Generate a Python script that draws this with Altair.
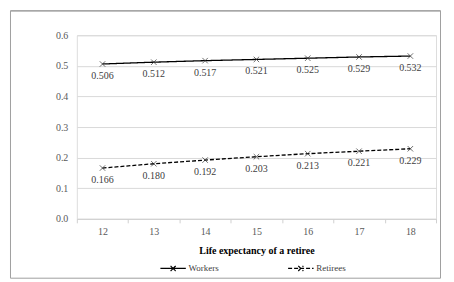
import altair as alt
import pandas as pd

years = [12, 13, 14, 15, 16, 17, 18]
workers = [0.506, 0.512, 0.517, 0.521, 0.525, 0.529, 0.532]
retirees = [0.166, 0.180, 0.192, 0.203, 0.213, 0.221, 0.229]
series_names = ["Workers", "Retirees"]
y_ticks = [0.0, 0.1, 0.2, 0.3, 0.4, 0.5, 0.6]

rows = []
for name, vals in zip(series_names, [workers, retirees]):
    for yr, v in zip(years, vals):
        rows.append({"year": yr, "series": name, "value": v, "label": f"{v:.3f}"})
df = pd.DataFrame(rows)

FONT = "'Liberation Serif', 'Times New Roman', 'DejaVu Serif', serif"

x_enc = alt.X(
    "year:O",
    scale=alt.Scale(type="band", paddingInner=0, paddingOuter=0),
    bandPosition=0.5,
    axis=alt.Axis(
        title="Life expectancy of a retiree",
        labelAngle=0,
        tickBand="extent",
        grid=False,
        domainColor="#d0d0d0",
        tickColor="#d0d0d0",
        tickSize=4,
        labelColor="#595959",
        labelFont=FONT,
        labelFontSize=10,
        labelPadding=4,
        titleFont=FONT,
        titleFontSize=10,
        titleFontWeight="bold",
        titleColor="#000000",
        titlePadding=9,
    ),
)
y_enc = alt.Y(
    "value:Q",
    scale=alt.Scale(domain=[0, 0.6], nice=False),
    axis=alt.Axis(
        title=None,
        values=y_ticks,
        format=".1f",
        domain=False,
        ticks=False,
        gridColor="#d9d9d9",
        labelColor="#595959",
        labelFont=FONT,
        labelFontSize=10,
        labelPadding=9,
    ),
)

base = alt.Chart(df)

lines = base.mark_line(color="black", strokeWidth=1.3).encode(
    x=x_enc,
    y=y_enc,
    strokeDash=alt.StrokeDash(
        "series:N",
        scale=alt.Scale(domain=series_names, range=[[1, 0], [4, 2]]),
        sort=series_names,
        legend=alt.Legend(
            title=None,
            orient="none",
            legendX=83,
            legendY=220,
            direction="horizontal",
            columns=2,
            columnPadding=66,
            symbolType="M-1,0H1M-0.2,-0.2L0.2,0.2M-0.2,0.2L0.2,-0.2",
            symbolSize=650,
            symbolStrokeColor="black",
            symbolStrokeWidth=1.2,
            symbolFillColor="transparent",
            labelFont=FONT,
            labelFontSize=9,
            labelColor="#404040",
            labelOffset=2,
        ),
    ),
)

points = base.mark_point(
    shape="M-1,-1L1,1M-1,1L1,-1", size=30, filled=False, color="#333333", strokeWidth=1
).encode(x=x_enc, y=y_enc, detail="series:N")

labels = base.mark_text(dy=12, font=FONT, fontSize=10, color="#404040").encode(
    x=x_enc, y=y_enc, text="label:N"
)

border_box = alt.Chart(pd.DataFrame({"a": [0]})).mark_rect(
    fill=None, stroke="#a0a0a0", strokeWidth=1, clip=False
).encode(
    x=alt.value(-66.5), x2=alt.value(364.5), y=alt.value(-24.5), y2=alt.value(243.5)
)
border_top = alt.Chart(pd.DataFrame({"a": [0]})).mark_rule(
    stroke="#a0a0a0", strokeWidth=1.2, clip=False
).encode(
    x=alt.value(-66.5), x2=alt.value(364.5), y=alt.value(-24.5)
)

chart = (
    alt.layer(border_box, border_top, lines, points, labels)
    .properties(
        width=360,
        height=184,
        autosize=alt.AutoSizeParams(type="none"),
        padding={"left": 69, "top": 27, "right": 10, "bottom": 62},
    )
    .configure_view(stroke=None)
    .configure(background="white")
)

chart.save("out.html", embed_options={"renderer": "svg", "actions": False})
